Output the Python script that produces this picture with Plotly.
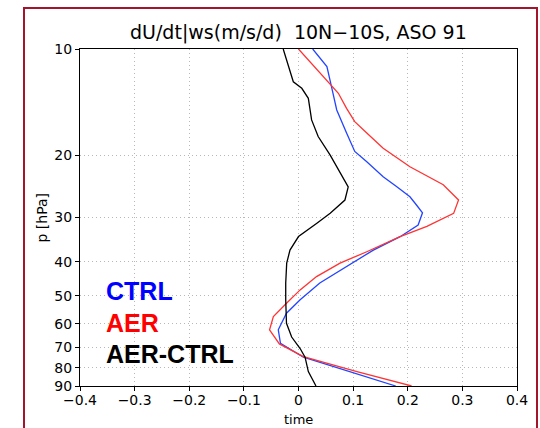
import plotly.graph_objects as go
import numpy as np

# ---- data ----
p_ctrl = [10, 11.22, 12.9, 14.88, 17.3, 19.5, 20.85, 23.0, 24.56, 26.2, 27.65, 29.1,
          31.5, 34.0, 37.1, 41.3, 46.0, 51.3, 56.0, 62.4, 68.1, 74.6, 81.9, 90]
u_ctrl = [0.026, 0.052, 0.061, 0.070, 0.088, 0.103, 0.125, 0.155, 0.180, 0.204, 0.216, 0.227,
          0.219, 0.186, 0.137, 0.088, 0.039, 0.003, -0.022, -0.037, -0.033, 0.009, 0.094, 0.178]

p_aer = [10, 10.86, 11.72, 12.5, 13.35, 14.72, 16.06, 17.3, 19.1, 21.55, 24.24, 26.77, 29.2,
         31.8, 34.0, 37.5, 40.4, 44.1, 48.1, 52.5, 57.2, 62.4, 68.4, 74.3, 81.9, 90]
u_aer = [0.0, 0.021, 0.039, 0.055, 0.073, 0.088, 0.103, 0.125, 0.155, 0.204, 0.265, 0.293, 0.284,
         0.235, 0.186, 0.125, 0.076, 0.033, 0.003, -0.022, -0.046, -0.053, -0.035, 0.009, 0.107, 0.207]

p_diff = [10, 10.74, 12.38, 12.92, 13.79, 15.88, 17.7, 19.98, 22.26, 24.56, 26.77, 29.2,
          31.2, 33.97, 37.1, 40.4, 46.0, 51.3, 59.8, 65.4, 70.5, 74.6, 81.9, 90]
u_diff = [-0.028, -0.022, -0.0095, 0.006, 0.018, 0.024, 0.036, 0.058, 0.076, 0.091, 0.085, 0.058,
          0.033, 0.0, -0.0156, -0.0216, -0.0234, -0.0234, -0.022, -0.0125, 0.003, 0.012, 0.018, 0.032]

x_ticks = [-0.4, -0.3, -0.2, -0.1, 0, 0.1, 0.2, 0.3, 0.4]
x_tick_labels = ["−0.4", "−0.3", "−0.2", "−0.1", "0", "0.1", "0.2", "0.3", "0.4"]
p_ticks = [10, 20, 30, 40, 50, 60, 70, 80, 90]

title_text = "dU/dt|ws(m/s/d)  10N−10S, ASO 91"
legend_names = ["CTRL", "AER", "AER-CTRL"]
legend_colors = ["#0000ff", "#ff0000", "#000000"]

# ---- figure ----
W, H = 540, 428
ml, mr, mt, mb = 80, 23, 49, 42
pw, ph = W - ml - mr, H - mt - mb

def px_x(x):
    return (x - ml) / pw

def px_y(y):
    return (H - mb - y) / ph

fig = go.Figure()
fig.add_trace(go.Scatter(x=u_ctrl, y=p_ctrl, mode="lines",
                         line=dict(color="#2244ff", width=1.3), name="CTRL"))
fig.add_trace(go.Scatter(x=u_aer, y=p_aer, mode="lines",
                         line=dict(color="#ff3333", width=1.3), name="AER"))
fig.add_trace(go.Scatter(x=u_diff, y=p_diff, mode="lines",
                         line=dict(color="#000000", width=1.3), name="AER-CTRL"))

tickfont = dict(family="DejaVu Sans", size=14, color="black")

fig.update_layout(
    width=W, height=H,
    margin=dict(l=ml, r=mr, t=mt, b=mb),
    paper_bgcolor="white", plot_bgcolor="white",
    showlegend=False,
    xaxis=dict(range=[-0.4, 0.4], tickvals=x_ticks, ticktext=x_tick_labels,
               showline=True, linecolor="black", linewidth=1, mirror=True,
               ticks="outside", ticklen=4, tickcolor="black", ticklabelstandoff=-3,
               showgrid=True, gridcolor="#b8b8b8", griddash="1px,3px", gridwidth=1,
               zeroline=False, tickfont=tickfont),
    yaxis=dict(type="log", range=[np.log10(90), 1], tickvals=p_ticks,
               ticktext=[str(v) for v in p_ticks],
               showline=True, linecolor="black", linewidth=1, mirror=True,
               ticks="outside", ticklen=4, tickcolor="black",
               showgrid=True, gridcolor="#b8b8b8", griddash="1px,3px", gridwidth=1,
               zeroline=False, tickfont=tickfont),
)

annotations = [
    dict(text=title_text, x=px_x(298.5), y=px_y(33), xref="paper", yref="paper",
         xanchor="center", yanchor="middle", showarrow=False,
         font=dict(family="DejaVu Sans", size=19, color="black")),
    dict(text="time", x=px_x(298.5), y=px_y(419), xref="paper", yref="paper",
         xanchor="center", yanchor="middle", showarrow=False,
         font=dict(family="DejaVu Sans", size=13, color="black")),
    dict(text="p [hPa]", x=px_x(41), y=px_y(217.5), xref="paper", yref="paper",
         xanchor="center", yanchor="middle", showarrow=False, textangle=-90,
         font=dict(family="DejaVu Sans", size=14, color="black")),
]
legend_y = [290.5, 323, 354]
for name, col, yy in zip(legend_names, legend_colors, legend_y):
    annotations.append(dict(text=name, x=px_x(104), y=px_y(yy), xref="paper", yref="paper",
                            xanchor="left", yanchor="middle", showarrow=False,
                            font=dict(family="Liberation Sans", size=25, color=col, weight="bold")))
fig.update_layout(annotations=annotations)

fig.add_shape(type="rect", xref="paper", yref="paper",
              x0=px_x(24), x1=px_x(537), y0=px_y(445), y1=px_y(8),
              line=dict(color="#a3142d", width=2), fillcolor="rgba(0,0,0,0)", layer="above")

fig.write_html("out.html")
